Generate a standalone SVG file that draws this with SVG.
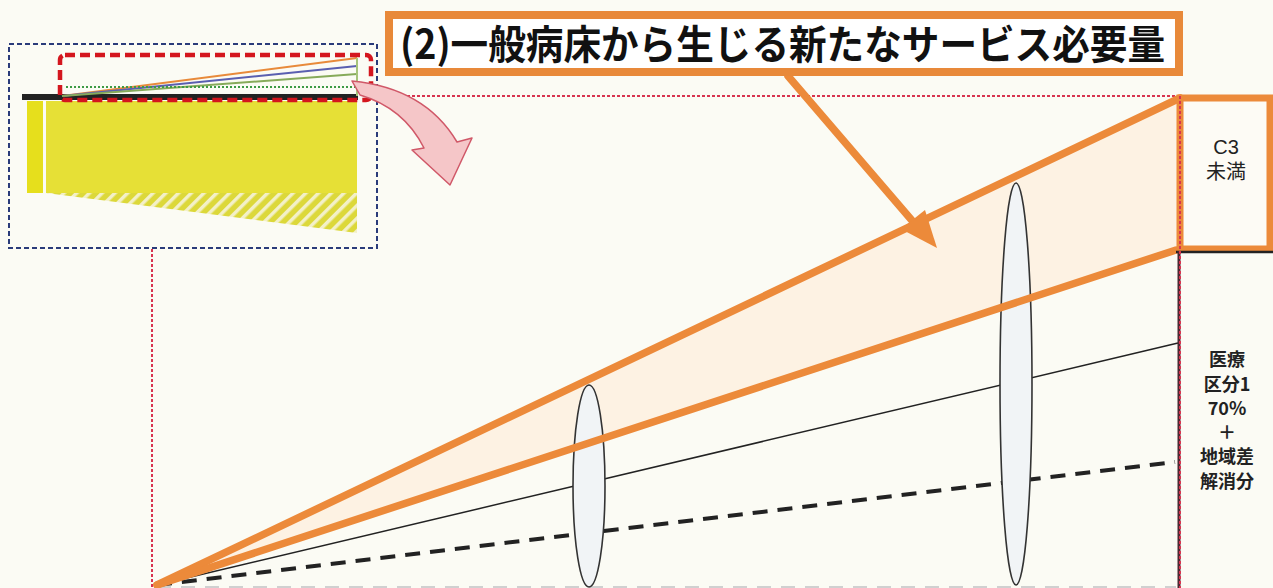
<svg xmlns="http://www.w3.org/2000/svg" width="1273" height="588" viewBox="0 0 1273 588">
<defs>
<style>
.jp{font-family:"Noto Sans CJK JP","Noto Sans",sans-serif}
.lat{font-family:"Liberation Sans","Noto Sans CJK JP",sans-serif}
.or{stroke:#ec8a3a;fill:none;stroke-linecap:round}
.reddot{stroke:#d8344f;stroke-width:2;stroke-dasharray:3 2;fill:none}
.ell{fill:#f1f4f6;stroke:#333;stroke-width:1.6}
.rt{font-size:18px;font-weight:700;fill:#222;text-anchor:middle}
</style>
<pattern id="hatch" patternUnits="userSpaceOnUse" width="9" height="9" patternTransform="rotate(45)">
<rect width="9" height="9" fill="#dcd83a"/>
<rect width="3.5" height="9" fill="#f3f0c8"/>
</pattern>
</defs>
<rect width="1273" height="588" fill="#fbfbf4"/>

<g id="guides">
<line class="reddot" x1="377" y1="96" x2="1180" y2="96"/>
<line class="reddot" x1="152" y1="249" x2="152" y2="588"/>
<line x1="157" y1="587" x2="1176" y2="587" stroke="#d0d0d0" stroke-width="2" stroke-dasharray="14 10"/>
</g>

<g id="chart">
<polygon points="157,585 1180,98 1180,250" fill="#fdf2e3"/>
<line x1="157" y1="585" x2="1178" y2="343" stroke="#222" stroke-width="1.5"/>
<line x1="157" y1="585" x2="1175" y2="462" stroke="#222" stroke-width="4" stroke-dasharray="15 10"/>
<ellipse class="ell" cx="589" cy="486" rx="16" ry="101"/>
<ellipse class="ell" cx="1016" cy="384" rx="16" ry="201"/>
</g>

<g id="connectors">
<line class="or" x1="157" y1="585" x2="1180" y2="98" stroke-width="7.5"/>
<line class="or" x1="157" y1="585" x2="1176" y2="250" stroke-width="7.5"/>
<line class="or" x1="788" y1="76" x2="915" y2="224" stroke-width="7.5"/>
<polygon points="937,248 901,229 925,210" fill="#ec8a3a"/>
</g>

<g id="c3box">
<rect x="1180" y="98" width="90" height="151" fill="#fdfbf5" stroke="#ec8a3a" stroke-width="7"/>
<text class="lat" x="1226" y="154" font-size="20" text-anchor="middle" fill="#222">C3</text>
<text class="jp" x="1226" y="179" font-size="20" text-anchor="middle" fill="#222">未満</text>
</g>

<g id="rightcol">
<line x1="1176" y1="252" x2="1273" y2="252" stroke="#222" stroke-width="2.5"/>
<line x1="1179" y1="251" x2="1179" y2="588" stroke="#4b2a33" stroke-width="3"/>
<line class="reddot" x1="1180" y1="96" x2="1180" y2="588"/>
<text class="jp rt" x="1227" y="366">医療</text>
<text class="jp rt" x="1227" y="391">区分1</text>
<text class="jp rt" x="1227" y="415">70%</text>
<text class="jp rt" x="1227" y="439">＋</text>
<text class="jp rt" x="1227" y="463">地域差</text>
<text class="jp rt" x="1227" y="488">解消分</text>
</g>

<g id="inset">
<rect x="27" y="101" width="16" height="92" fill="#e6df1c"/>
<rect x="46" y="101" width="311" height="92" fill="#e6e036"/>
<polygon points="46,193 357,193 357,233" fill="url(#hatch)"/>
<line x1="22" y1="97" x2="358" y2="97" stroke="#222" stroke-width="6"/>
<line x1="62" y1="96" x2="357" y2="58" stroke="#e88a3a" stroke-width="2"/>
<line x1="62" y1="96" x2="357" y2="66" stroke="#5a5fb0" stroke-width="2"/>
<line x1="62" y1="96" x2="357" y2="74" stroke="#86aa5a" stroke-width="2"/>
<line x1="66" y1="87" x2="356" y2="87" stroke="#3d9a45" stroke-width="2" stroke-dasharray="2 2"/>
<line x1="357" y1="58" x2="357" y2="96" stroke="#a6c47a" stroke-width="2"/>
<rect x="60" y="55" width="311" height="45" rx="5" fill="none" stroke="#d4161e" stroke-width="4.5" stroke-dasharray="10 5"/>
<rect x="9" y="44" width="368" height="204" fill="none" stroke="#2a3b7a" stroke-width="2" stroke-dasharray="5 3"/>
</g>

<g id="zoomarrow">
<path d="M352,81 Q425,88 457,142 L472,138 L450,185 L412,150 L424,148 Q404,108 360,95 Z" fill="#f5c6c8" stroke="#d05868" stroke-width="1.5" stroke-linejoin="round"/>
</g>

<g id="title">
<rect x="389" y="15" width="790" height="57" fill="#ffffff" stroke="#e8893a" stroke-width="8"/>
<text class="jp" x="400" y="59" font-size="40" font-weight="700" fill="#111" textLength="765" lengthAdjust="spacingAndGlyphs">(2)一般病床から生じる新たなサービス必要量</text>
</g>
</svg>
